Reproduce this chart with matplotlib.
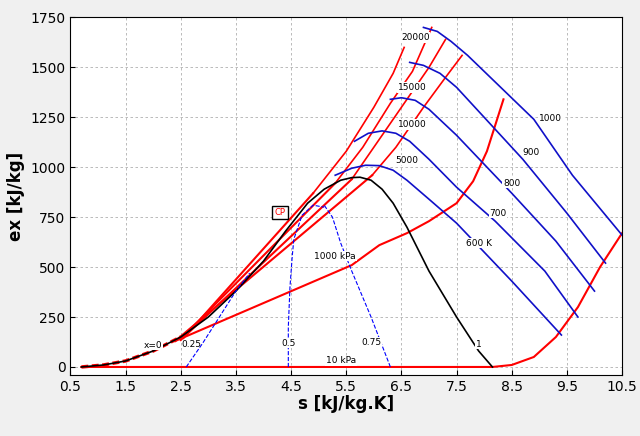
import numpy as np
import matplotlib.pyplot as plt

# saturation dome
dome_s = [0.7, 1.1, 1.5, 2.0, 2.5, 3.0, 3.5, 4.0, 4.4, 4.8, 5.1, 5.4, 5.6, 5.75, 5.95, 6.15, 6.35, 6.6, 7.0, 7.5, 7.9, 8.15]
dome_ex = [0, 10, 30, 80, 150, 250, 380, 530, 680, 820, 890, 935, 948, 950, 935, 890, 820, 700, 480, 250, 80, 0]

# quality lines
q_labels = ['0.25', '0.5', '0.75']
q_s = [[2.6, 2.9, 3.2, 3.5, 3.75], [4.45, 4.45, 4.48, 4.52, 4.55, 4.7, 4.9, 5.1], [6.3, 5.95, 5.6, 5.4, 5.25, 5.1]]
q_ex = [[0, 120, 250, 380, 470], [0, 200, 400, 550, 640, 760, 810, 800], [0, 250, 480, 620, 750, 810]]

# isobars [kPa]
p10_s = [0.7, 8.15, 8.5, 8.9, 9.3, 9.7, 10.1, 10.5]
p10_ex = [0, 0, 10, 50, 150, 300, 500, 670]
p1000_s = [2.4, 5.6, 6.1, 6.6, 7.0, 7.5, 7.8, 8.05, 8.35]
p1000_ex = [130, 510, 610, 670, 730, 820, 930, 1080, 1340]
p_sat_start = [(2.4, 130), (2.5, 135), (2.5, 140), (2.55, 145)]
hp_s = [[5.97, 6.4, 6.9, 7.3, 7.6], [5.6, 6.0, 6.5, 7.0, 7.3],
        [5.3, 5.8, 6.3, 6.7, 7.05], [4.9, 5.5, 6.0, 6.35, 6.55]]
hp_ex = [[960, 1100, 1300, 1450, 1560], [940, 1100, 1300, 1500, 1640],
         [920, 1100, 1320, 1480, 1700], [870, 1080, 1300, 1470, 1600]]
hp_labels = ['5000', '10000', '15000', '20000']
hp_label_pos = [(6.6, 1035), (6.7, 1215), (6.7, 1400), (6.75, 1650)]

# isotherms [K]
t_labels = ['600 K', '700', '800', '900', '1000']
t_s = [[5.3, 5.6, 5.85, 6.1, 6.35, 6.6, 7.0, 7.5, 8.5, 9.4],
       [5.65, 5.9, 6.15, 6.4, 6.65, 7.0, 7.5, 8.2, 9.1, 9.7],
       [6.3, 6.5, 6.75, 7.0, 7.5, 8.5, 9.3, 10.0],
       [6.65, 6.9, 7.2, 7.5, 7.8, 8.7, 9.5, 10.2],
       [6.9, 7.15, 7.4, 7.7, 8.0, 8.9, 9.6, 10.5]]
t_ex = [[960, 995, 1010, 1008, 985, 935, 840, 720, 430, 160],
        [1130, 1170, 1182, 1170, 1130, 1040, 900, 730, 480, 250],
        [1340, 1348, 1335, 1290, 1160, 870, 630, 380],
        [1525, 1510, 1470, 1400, 1310, 1040, 770, 520],
        [1700, 1680, 1630, 1560, 1480, 1240, 960, 660]]
t_label_pos = [(7.9, 620), (8.25, 770), (8.5, 920), (8.85, 1075), (9.2, 1245)]

fig = plt.figure(figsize=(6.4, 4.36), dpi=100, facecolor='#f0f0f0')
ax = fig.add_axes([0.11, 0.14, 0.862, 0.82])

for i in range(4):
    s0, e0 = p_sat_start[i]
    ax.plot([s0, hp_s[i][0]], [e0, hp_ex[i][0]], color='red', lw=1.5)
    ax.plot(hp_s[i], hp_ex[i], color='red', lw=1.2)
    ax.text(*hp_label_pos[i], hp_labels[i], fontsize=6.5, ha='center', va='center',
            bbox=dict(fc='white', ec='none', pad=0.5))
ax.plot(p10_s, p10_ex, color='red', lw=1.5)
ax.plot(p1000_s, p1000_ex, color='red', lw=1.5)
ax.plot(dome_s[:5], dome_ex[:5], color='red', lw=2.5, ls=(0, (2, 1)))
ax.plot(dome_s, dome_ex, color='black', lw=1.2)

for i in range(3):
    ax.plot(q_s[i], q_ex[i], color='blue', lw=0.8, ls='--')
for i in range(5):
    ax.plot(t_s[i], t_ex[i], color='#1010c8', lw=1.2)
    ax.text(*t_label_pos[i], t_labels[i], fontsize=6.5, ha='center', va='center',
            bbox=dict(fc='white', ec='none', pad=0.5))

ax.text(5.3, 555, '1000 kPa', fontsize=6.5, ha='center', va='center', bbox=dict(fc='white', ec='none', pad=0.5))
ax.text(5.4, 30, '10 kPa', fontsize=6.5, ha='center', va='center', bbox=dict(fc='white', ec='none', pad=0.5))
ax.text(2.0, 110, 'x=0', fontsize=6.5, ha='center', va='center', bbox=dict(fc='white', ec='none', pad=0.5))
ax.text(2.7, 115, '0.25', fontsize=6.5, ha='center', va='center')
ax.text(4.45, 120, '0.5', fontsize=6.5, ha='center', va='center', bbox=dict(fc='white', ec='none', pad=0.5))
ax.text(5.95, 125, '0.75', fontsize=6.5, ha='center', va='center', bbox=dict(fc='white', ec='none', pad=0.5))
ax.text(7.9, 115, '1', fontsize=6.5, ha='center', va='center', bbox=dict(fc='white', ec='none', pad=0.5))
ax.text(4.3, 775, 'CP', fontsize=6, color='red', ha='center', va='center',
        bbox=dict(fc='white', ec='black', pad=1.5))

ax.set_xlim(0.5, 10.5)
ax.set_ylim(-40, 1750)
ax.set_xticks(np.arange(0.5, 10.6, 1.0))
ax.set_yticks(np.arange(0, 1751, 250))
ax.grid(True, ls=(0, (3, 3)), color='#b0b0b0', lw=0.6)
ax.tick_params(labelsize=10, direction='in')
ax.set_xlabel('s [kJ/kg.K]', fontsize=12, fontweight='bold', labelpad=1)
ax.set_ylabel('ex [kJ/kg]', fontsize=12, fontweight='bold')
fig.savefig('out.png', dpi=100, facecolor=fig.get_facecolor())
plt.close()
